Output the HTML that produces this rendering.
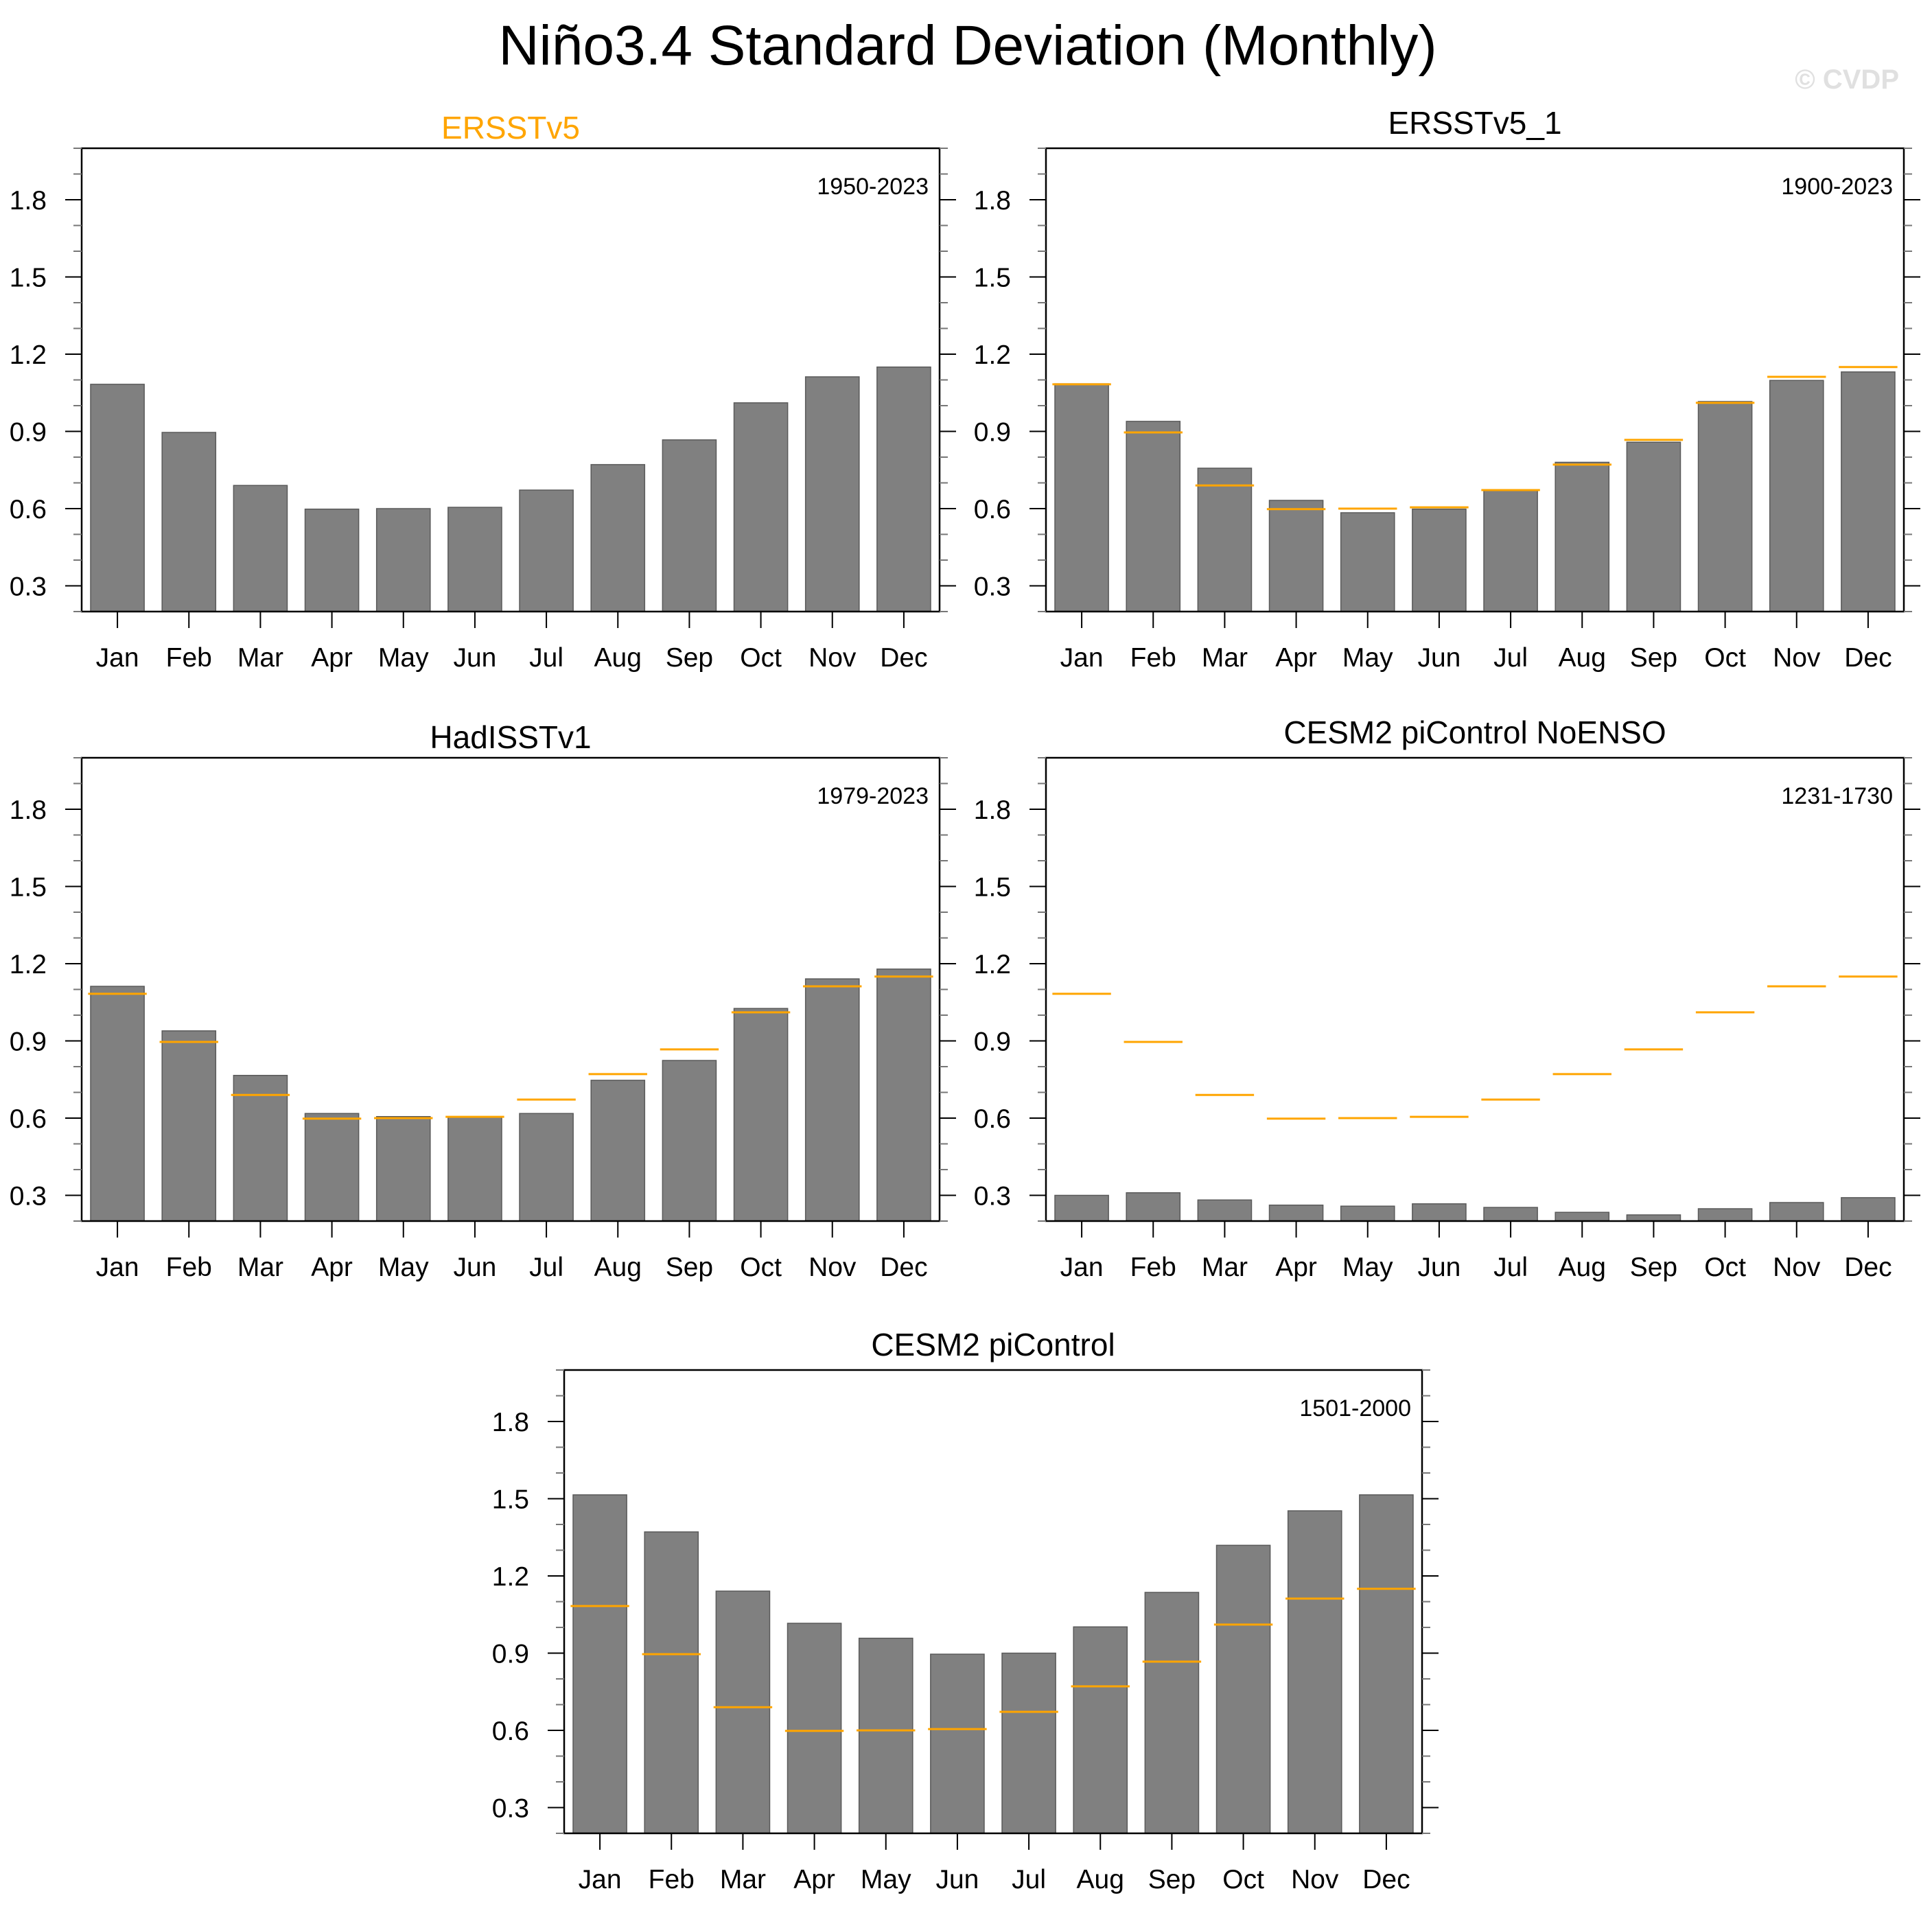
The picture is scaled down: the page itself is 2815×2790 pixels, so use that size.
<!DOCTYPE html>
<html><head><meta charset="utf-8"><style>
html,body{margin:0;padding:0;background:#fff;}
svg{display:block;font-family:"Liberation Sans",Arial,sans-serif;}
</style></head><body>
<svg id="fig" width="2815" height="2790" viewBox="0 0 2815 2790" xmlns="http://www.w3.org/2000/svg">
<text x="1410" y="94" font-size="82" text-anchor="middle" fill="#000">Niño3.4 Standard Deviation (Monthly)</text>
<text x="2767" y="129" font-size="40" font-weight="bold" text-anchor="end" fill="#e0e0e0">© CVDP</text>
</svg>
<script>
const months = ["Jan","Feb","Mar","Apr","May","Jun","Jul","Aug","Sep","Oct","Nov","Dec"];
const yTicks = [0.3,0.6,0.9,1.2,1.5,1.8];
const yTickLabels = ["0.3","0.6","0.9","1.2","1.5","1.8"];
const refValues = [1.083,0.896,0.69,0.598,0.6,0.605,0.672,0.771,0.867,1.011,1.112,1.15];
const ersstv5 = [1.083,0.896,0.69,0.598,0.6,0.605,0.672,0.771,0.867,1.011,1.112,1.15];
const ersstv5_1 = [1.085,0.939,0.757,0.632,0.584,0.598,0.67,0.78,0.858,1.016,1.098,1.131];
const hadisst = [1.112,0.939,0.766,0.618,0.606,0.606,0.618,0.747,0.824,1.026,1.141,1.179];
const noenso = [0.30,0.31,0.282,0.262,0.258,0.267,0.253,0.234,0.224,0.248,0.272,0.291];
const picontrol = [1.515,1.371,1.141,1.016,0.958,0.896,0.9,1.002,1.136,1.319,1.453,1.515];
const panelTitles = ["ERSSTv5","ERSSTv5_1","HadISSTv1","CESM2 piControl NoENSO","CESM2 piControl"];
const panelYears = ["1950-2023","1900-2023","1979-2023","1231-1730","1501-2000"];

const NS="http://www.w3.org/2000/svg";
const svg=document.getElementById('fig');
function mk(tag,attrs,parent){const e=document.createElementNS(NS,tag);for(const k in attrs)e.setAttribute(k,attrs[k]);(parent||svg).appendChild(e);return e;}

const YMIN=0.2,YMAX=2.0,W=1250,H=675;
const panels=[
 {x:119,y:216,vals:ersstv5,ref:false,ty:202,tc:"#FFA500"},
 {x:1524,y:216,vals:ersstv5_1,ref:true,ty:195,tc:"#000"},
 {x:119,y:1104,vals:hadisst,ref:true,ty:1090,tc:"#000"},
 {x:1524,y:1104,vals:noenso,ref:true,ty:1083,tc:"#000"},
 {x:822,y:1996,vals:picontrol,ref:true,ty:1975,tc:"#000"}
];

panels.forEach((p,pi)=>{
 const g=mk('g',{});
 
 
 const ys=v=>p.y+H-(v-YMIN)/(YMAX-YMIN)*H;
 const slot=W/12;
 const xs=i=>p.x+slot*(i+0.5);
 p.vals.forEach((v,i)=>{
  const r=mk('rect',{x:xs(i)-slot*0.375,y:ys(v),width:slot*0.75,height:p.y+H-ys(v),fill:'#808080',stroke:'#5a5a5a','stroke-width':1.5},g);
  
  
 });
 if(p.ref){
  refValues.forEach((v,i)=>{
   const l=mk('line',{x1:xs(i)-slot*0.41,x2:xs(i)+slot*0.41,y1:ys(v),y2:ys(v),stroke:'#FFA500','stroke-width':3},g);
   
   
  });
 }
 const f=mk('rect',{x:p.x,y:p.y,width:W,height:H,fill:'none',stroke:'#000','stroke-width':2.5},g);
 
 
 for(let k=0;k<=18;k++){
  const v=YMIN+k*0.1;const y=ys(v);
  const major=yTicks.some(t=>Math.abs(t-v)<1e-6);
  const len=major?24:12;
  mk('line',{x1:p.x-len,x2:p.x,y1:y,y2:y,stroke:major?'#000':'#777','stroke-width':2},g);
  mk('line',{x1:p.x+W,x2:p.x+W+len,y1:y,y2:y,stroke:major?'#000':'#777','stroke-width':2},g);
 }
 yTicks.forEach((t,i)=>{
  const tx=mk('text',{x:p.x-51,y:ys(t)+14,'font-size':39,'text-anchor':'end',fill:'#000'},g);
  tx.textContent=yTickLabels[i];
  
  
 });
 months.forEach((m,i)=>{
  mk('line',{x1:xs(i),x2:xs(i),y1:p.y+H,y2:p.y+H+24,stroke:'#000','stroke-width':2},g);
  const tx=mk('text',{x:xs(i),y:p.y+H+80,'font-size':39,'text-anchor':'middle',fill:'#000'},g);
  tx.textContent=m;
  
  
 });
 const tt=mk('text',{x:p.x+W/2,y:p.ty,'font-size':46,'text-anchor':'middle',fill:p.tc},g);
 tt.textContent=panelTitles[pi];
 
 
 const yr=mk('text',{x:p.x+W-16,y:p.y+67,'font-size':34,'text-anchor':'end',fill:'#000'},g);
 yr.textContent=panelYears[pi];
 
 
});
</script>
</body></html>
